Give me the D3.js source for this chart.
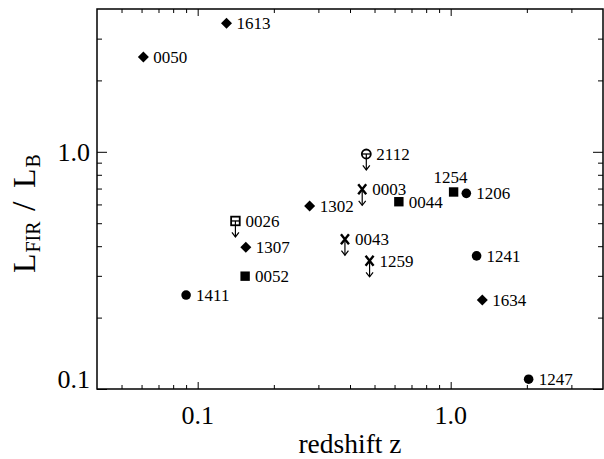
<!DOCTYPE html>
<html>
<head>
<meta charset="utf-8">
<script src="https://cdn.jsdelivr.net/npm/d3@7"></script>
<style>
  html, body { margin: 0; padding: 0; background: #fff; }
  svg { display: block; }
</style>
</head>
<body>
<svg id="chart" width="604" height="459" font-family="'Liberation Serif', 'DejaVu Serif', serif"></svg>
<script>
// ---- data ----
const names    = ["0050", "1613", "0026", "1307", "0052", "1411", "1302", "0043", "0003", "2112", "1259", "0044", "1254", "1206", "1241", "1634", "1247"];
const redshift = [0.061, 0.130, 0.141, 0.155, 0.154, 0.090, 0.277, 0.382, 0.447, 0.464, 0.478, 0.624, 1.027, 1.153, 1.266, 1.334, 2.033];
const ratio    = [2.51, 3.48, 0.511, 0.396, 0.299, 0.249, 0.591, 0.428, 0.695, 0.979, 0.347, 0.616, 0.677, 0.668, 0.364, 0.237, 0.110];
const symbols  = ["diamond", "diamond", "opensquare", "diamond", "square", "circle", "diamond", "cross", "cross", "opencircle", "cross", "square", "square", "circle", "circle", "diamond", "circle"];
const upperLimit = [false, false, true, false, false, false, false, true, true, true, true, false, false, false, false, false, false];

const xDomain = [0.04, 4];
const yDomain = [0.1, 4];
const xMajor = [0.1, 1];
const xMinor = [0.05, 0.06, 0.07, 0.08, 0.09, 0.2, 0.3, 0.4, 0.5, 0.6, 0.7, 0.8, 0.9, 2, 3];
const yMajor = [0.1, 1];
const yMinor = [0.2, 0.3, 0.4, 0.5, 0.6, 0.7, 0.8, 0.9, 2, 3];
const tickLabels = {0.1: "0.1", 1: "1.0"};
const xTitle = "redshift z";

// ---- layout ----
const L = 97, R = 603, T = 9, B = 389;
const svg = d3.select("#chart");
const x = d3.scaleLog().domain(xDomain).range([L, R]);
const y = d3.scaleLog().domain(yDomain).range([B, T]);

function axis(gen, tx, ty, values, size) {
  const g = svg.append("g").attr("transform", `translate(${tx},${ty})`)
    .call(gen.tickValues(values).tickSize(size).tickSizeOuter(0).tickFormat(""));
  g.select(".domain").remove();
  g.selectAll("line").attr("stroke", "#000").attr("stroke-width", 1);
  g.selectAll("text").remove();
  g.attr("font-family", null);
  return g;
}
// x ticks (inward)
axis(d3.axisBottom(x), 0, B, xMajor, -7);
axis(d3.axisBottom(x), 0, B, xMinor, -4);
axis(d3.axisTop(x), 0, T, xMajor, -7);
axis(d3.axisTop(x), 0, T, xMinor, -4);
// y ticks (inward)
axis(d3.axisLeft(y), L, 0, yMajor, -10);
axis(d3.axisLeft(y), L, 0, yMinor, -5);
axis(d3.axisRight(y), R, 0, yMajor, -10);
axis(d3.axisRight(y), R, 0, yMinor, -5);

// frame
svg.append("rect").attr("x", L).attr("y", T).attr("width", R - L).attr("height", B - T)
  .attr("fill", "none").attr("stroke", "#000").attr("stroke-width", 1.5);

// tick labels
svg.append("g").selectAll("text").data(xMajor).join("text")
  .attr("x", d => x(d)).attr("y", B + 35)
  .attr("text-anchor", "middle").attr("font-size", 26)
  .text(d => tickLabels[d]);
svg.append("g").selectAll("text").data(yMajor).join("text")
  .attr("x", L - 7).attr("y", d => d === yDomain[0] ? y(d) - 1 : y(d) + 9)
  .attr("text-anchor", "end").attr("font-size", 26)
  .text(d => tickLabels[d]);

// axis titles
svg.append("text").attr("x", (L + R) / 2).attr("y", 453)
  .attr("text-anchor", "middle").attr("font-size", 27.5).text(xTitle);

const yt = svg.append("text")
  .attr("transform", "translate(35,273) rotate(-90)")
  .attr("text-anchor", "start").attr("font-size", 32);
yt.append("tspan").attr("x", 0).attr("y", 0).text("L");
yt.append("tspan").attr("x", 20.5).attr("y", 5).attr("font-size", 20).text("FIR");
yt.append("tspan").attr("x", 62).attr("y", 0).attr("font-size", 34).text("/");
yt.append("tspan").attr("x", 85).attr("y", 0).text("L");
yt.append("tspan").attr("x", 105.5).attr("y", 5).attr("font-size", 20).text("B");

// ---- points ----
const pts = names.map((n, i) => ({name: n, z: redshift[i], r: ratio[i], sym: symbols[i], ul: upperLimit[i]}));
const g = svg.append("g");

pts.forEach(p => {
  const cx = x(p.z), cy = y(p.r);
  const m = g.append("g").attr("transform", `translate(${cx},${cy})`);
  if (p.ul) {
    const len = 16;
    m.append("line").attr("x1", 0).attr("y1", 0).attr("x2", 0).attr("y2", len)
      .attr("stroke", "#000").attr("stroke-width", 1.2);
    m.append("path").attr("d", `M-3.5,${len - 4.5}L0,${len}L3.5,${len - 4.5}`)
      .attr("fill", "none").attr("stroke", "#000").attr("stroke-width", 1.2);
  }
  switch (p.sym) {
    case "diamond":
      m.append("path").attr("d", "M0,-5.5L5.5,0L0,5.5L-5.5,0Z").attr("fill", "#000");
      break;
    case "square":
      m.append("rect").attr("x", -4.7).attr("y", -4.7).attr("width", 9.4).attr("height", 9.4).attr("fill", "#000");
      break;
    case "circle":
      m.append("circle").attr("r", 4.8).attr("fill", "#000");
      break;
    case "opensquare":
      m.append("rect").attr("x", -4.3).attr("y", -4.3).attr("width", 8.6).attr("height", 8.6)
        .attr("fill", "none").attr("stroke", "#000").attr("stroke-width", 1.8);
      m.append("line").attr("x1", -4.3).attr("x2", 4.3).attr("y1", 0).attr("y2", 0)
        .attr("stroke", "#000").attr("stroke-width", 1.3);
      break;
    case "opencircle":
      m.append("circle").attr("r", 4.5).attr("fill", "none").attr("stroke", "#000").attr("stroke-width", 1.8);
      m.append("line").attr("x1", -4.5).attr("x2", 4.5).attr("y1", 0).attr("y2", 0)
        .attr("stroke", "#000").attr("stroke-width", 1.3);
      break;
    case "cross":
      m.append("path").attr("d", "M-4,-5L4,5M4,-5L-4,5")
        .attr("fill", "none").attr("stroke", "#000").attr("stroke-width", 2.4);
      break;
  }
  const above = p.name === "1254";
  g.append("text")
    .attr("x", above ? cx - 3 : cx + 10)
    .attr("y", above ? cy - 9 : cy + 6)
    .attr("text-anchor", above ? "middle" : "start")
    .attr("font-size", 17)
    .text(p.name);
});
</script>
</body>
</html>
